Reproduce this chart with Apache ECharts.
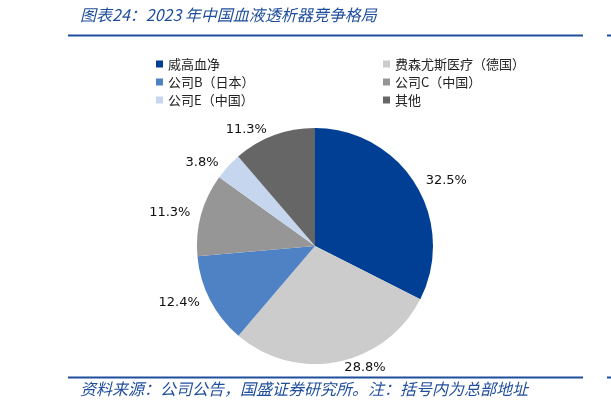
<!DOCTYPE html>
<html>
<head>
<meta charset="utf-8">
<script src="https://cdn.jsdelivr.net/npm/echarts@6/dist/echarts.min.js"></script>
<style>
html,body{margin:0;padding:0;background:#fff;}
#chart{width:611px;height:410px;}
</style>
</head>
<body>
<div id="chart"></div>
<script>
var categories = ['威高血净', '费森尤斯医疗（德国）', '公司B（日本）', '公司C（中国）', '公司E（中国）', '其他'];
var shares = [32.5, 28.8, 12.4, 11.3, 3.8, 11.3];
var colors = ['#003F94', '#CCCCCC', '#4F81C5', '#969696', '#C5D6EE', '#666666'];
var titleText = '图表24：2023 年中国血液透析器竞争格局';
var footText = '资料来源：公司公告，国盛证券研究所。注：括号内为总部地址';

var pieData = categories.map(function (c, i) {
  return { name: c, value: shares[i], itemStyle: { color: colors[i] } };
});
var leftNames = [categories[0], categories[2], categories[4]];
var rightNames = [categories[1], categories[3], categories[5]];

var blue = '#1F4E9C';
var legendBase = {
  orient: 'vertical',
  top: 52,
  itemWidth: 7,
  itemHeight: 7,
  itemGap: 4,
  icon: 'rect',
  selectedMode: false,
  textStyle: { fontFamily: 'Noto Sans CJK SC', fontSize: 13, color: '#222', lineHeight: 14 }
};

var chart = echarts.init(document.getElementById('chart'), null, { renderer: 'canvas' });
chart.setOption({
  animation: false,
  backgroundColor: '#fff',
  legend: [
    Object.assign({}, legendBase, { left: 151, data: leftNames }),
    Object.assign({}, legendBase, { left: 378, data: rightNames })
  ],
  graphic: [
    { type: 'text', left: 80, top: 7, style: { text: titleText, fill: blue, font: 'italic 16px "Noto Sans CJK SC"' } },
    { type: 'line', shape: { x1: 68, y1: 35.5, x2: 583, y2: 35.5 }, style: { stroke: blue, lineWidth: 2 } },
    { type: 'line', shape: { x1: 607, y1: 35.5, x2: 611, y2: 35.5 }, style: { stroke: blue, lineWidth: 2 } },
    { type: 'line', shape: { x1: 68, y1: 377.5, x2: 583, y2: 377.5 }, style: { stroke: blue, lineWidth: 2 } },
    { type: 'line', shape: { x1: 607, y1: 377.5, x2: 611, y2: 377.5 }, style: { stroke: blue, lineWidth: 2 } },
    { type: 'text', left: 80, top: 381, style: { text: footText, fill: blue, font: 'italic 16px "Noto Sans CJK SC"' } }
  ],
  series: [{
    type: 'pie',
    center: [315, 246],
    radius: 118,
    startAngle: 90,
    clockwise: true,
    avoidLabelOverlap: false,
    data: pieData,
    label: {
      show: true,
      position: 'outside',
      fontFamily: 'DejaVu Sans',
      fontSize: 13,
      color: '#111',
      formatter: function (p) { return p.value.toFixed(1) + '%'; }
    },
    labelLine: { show: false, length: 6, length2: 0 },
    emphasis: { disabled: true }
  }]
});
</script>
</body>
</html>
